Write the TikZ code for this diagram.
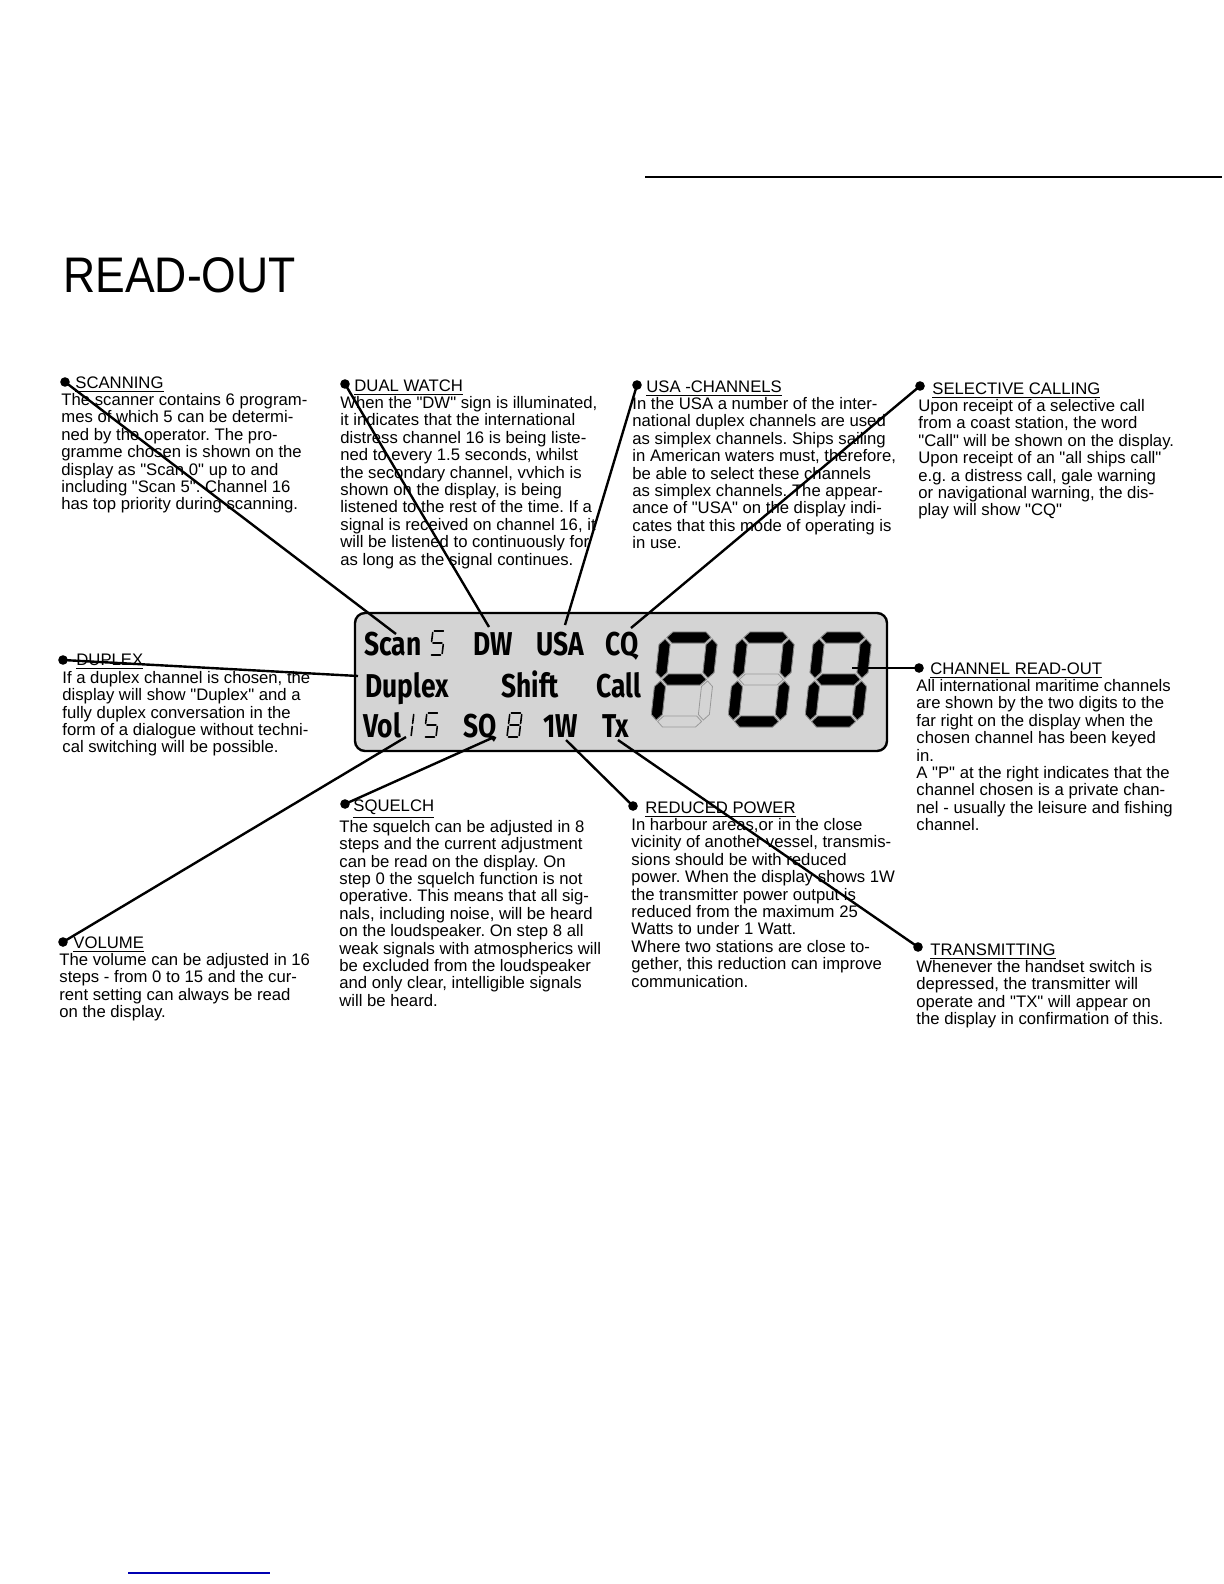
\documentclass[tikz,border=0pt]{standalone}
\usepackage{fontspec}
\setmainfont{Liberation Sans}[Ligatures=TeXOff]
\newfontfamily\lcdfont[FakeStretch=0.8]{Fira Sans}
\newfontfamily\titlefont[FakeStretch=0.89]{Liberation Sans}
\frenchspacing

% big LCD segments (local units, y up): a top, b/c right, d bottom, e/f left, g middle
\def\segA{(7,89.5) -- (12.5,95) -- (45.5,95) -- (51,89.5) -- (45.5,84) -- (12.5,84) -- cycle}
\def\segG{(7,47.5) -- (12.5,53) -- (45.5,53) -- (51,47.5) -- (45.5,42) -- (12.5,42) -- cycle}
\def\segD{(7,5.5) -- (12.5,11) -- (45.5,11) -- (51,5.5) -- (45.5,0) -- (12.5,0) -- cycle}
\def\segF{(5.5,49) -- (11,54.5) -- (11,82.5) -- (5.5,88) -- (0,82.5) -- (0,54.5) -- cycle}
\def\segE{(5.5,7) -- (11,12.5) -- (11,40.5) -- (5.5,46) -- (0,40.5) -- (0,12.5) -- cycle}
\def\segB{(52.5,49) -- (58,54.5) -- (58,82.5) -- (52.5,88) -- (47,82.5) -- (47,54.5) -- cycle}
\def\segC{(52.5,7) -- (58,12.5) -- (58,40.5) -- (52.5,46) -- (47,40.5) -- (47,12.5) -- cycle}
% small outline digits
\def\tsegA{(1.5,24) -- (10.5,24)}
\def\tsegB{(12,22.5) -- (12,13.5)}
\def\tsegC{(12,10.5) -- (12,1.5)}
\def\tsegD{(1.5,0) -- (10.5,0)}
\def\tsegE{(0,1.5) -- (0,10.5)}
\def\tsegF{(0,13.5) -- (0,22.5)}
\def\tsegG{(1.5,12) -- (10.5,12)}

\newcommand\bigdigit[3]{%
  \begin{scope}[shift={(#1,#2)}, yscale=-1, xslant=-0.11]
    \foreach \s in {A,B,C,D,E,F,G} \draw[segoff] \csname seg\s\endcsname;
    \foreach \s in {#3} \filldraw[segon] \csname seg\s\endcsname;
  \end{scope}}
\newcommand\thindigit[3]{%
  \begin{scope}[shift={(#1,#2)}, yscale=-1, xslant=-0.12]
    \foreach \s in {#3} \draw[segthin] \csname tseg\s\endcsname;
  \end{scope}}

\begin{document}
\begin{tikzpicture}[
    x=0.5pt, y=-0.5pt,
    body/.style={anchor=north west, inner sep=0, align=left,
                 font=\fontsize{8.35}{8.7}\selectfont},
    dot/.style={circle, fill, inner sep=0, minimum size=4.8pt},
    lead/.style={line width=1.2pt},
    lcdtxt/.style={anchor=base west, inner sep=0,
                   font=\lcdfont\bfseries\fontsize{16.5}{16.5}\selectfont},
    segon/.style={fill=black, draw=black!45, line width=0.4pt},
    segoff/.style={draw=black!40, line width=0.4pt},
    segthin/.style={line width=0.8pt, line cap=round}
]
\useasboundingbox (0,0) rectangle (1224,1584);
\fill[white] (0,0) rectangle (1224,1584);

% Heading and rules
\draw[line width=0.9pt] (645,177) -- (1222,177);
\node[anchor=base west, inner sep=0, font=\titlefont\fontsize{25}{25}\selectfont]
  (title) at (63,292) {READ-OUT};
\draw[blue!70!black, line width=0.6pt] (128,1573) -- (270,1573);

% LCD panel
\node[draw, line width=1.2pt, rounded corners=5pt, fill=black!17,
      minimum width=266pt, minimum height=69pt] (lcd) at (621,682) {};
% Row 1
\node[lcdtxt] (scan) at (364,655) {Scan};
\thindigit{430}{655}{A,F,G,C,D}
\node[lcdtxt] (dw) at (473,655) {DW};
\node[lcdtxt] (usa) at (536,655) {USA};
\node[lcdtxt] (cq) at (605,655) {CQ};
% Row 2
\node[lcdtxt] (duplex) at (365,697) {Duplex};
\node[lcdtxt] (shift) at (501,697) {Shift};
\node[lcdtxt] (call) at (596,697) {Call};
% Row 3
\node[lcdtxt] (vol) at (363,737) {Vol};
\thindigit{399}{737}{B,C}
\thindigit{424}{737}{A,F,G,C,D}
\node[lcdtxt] (sq) at (463,737) {SQ};
\thindigit{507}{737}{A,B,C,D,E,F,G}
\node[lcdtxt] (onew) at (543,737) {1W};
\node[lcdtxt] (tx) at (602,737) {Tx};
% Channel digits
\bigdigit{650}{727}{A,B,F,G,E}
\bigdigit{727}{727}{A,B,C,D,E,F}
\bigdigit{804}{727}{A,B,C,D,E,F,G}

% Text blocks, top row
\node[body] (scanning) at (61,376) {\hspace*{7pt}\underline{SCANNING}\\
  The scanner contains 6 program-\\mes of which 5 can be determi-\\
  ned by the operator. The pro-\\gramme chosen is shown on the\\
  display as "Scan 0" up to and\\including "Scan 5". Channel 16\\
  has top priority during scanning.};
\node[body] (dual) at (340,379) {\hspace*{7pt}\underline{DUAL WATCH}\\
  When the "DW" sign is illuminated,\\it indicates that the international\\
  distress channel 16 is being liste-\\ned to every 1.5 seconds, whilst\\
  the secondary channel, vvhich is\\shown on the display, is being\\
  listened to the rest of the time. If a\\signal is received on channel 16, it\\
  will be listened to continuously for\\as long as the signal continues.};
\node[body] (usach) at (632,380) {\hspace*{7pt}\underline{USA -CHANNELS}\\
  In the USA a number of the inter-\\national duplex channels are used\\
  as simplex channels. Ships sailing\\in American waters must, therefore,\\
  be able to select these channels\\as simplex channels. The appear-\\
  ance of "USA" on the display indi-\\cates that this mode of operating is\\
  in use.};
\node[body] (selcall) at (918,382) {\hspace*{7pt}\underline{SELECTIVE CALLING}\\
  Upon receipt of a selective call\\from a coast station, the word\\
  "Call" will be shown on the display.\\Upon receipt of an "all ships call"\\
  e.g. a distress call, gale warning\\or navigational warning, the dis-\\
  play will show "CQ"};
% Text blocks, middle row
\node[body] (dup) at (62,654) {\hspace*{7pt}\underline{DUPLEX}\\
  If a duplex channel is chosen, the\\display will show "Duplex" and a\\
  fully duplex conversation in the\\form of a dialogue without techni-\\
  cal switching will be possible.};
\node[body] (chan) at (916,662) {\hspace*{7pt}\underline{CHANNEL READ-OUT}\\
  All international maritime channels\\are shown by the two digits to the\\
  far right on the display when the\\chosen channel has been keyed\\in.\\
  A "P" at the right indicates that the\\channel chosen is a private chan-\\
  nel - usually the leisure and fishing\\channel.};
% Text blocks, bottom row
\node[body] (squelch) at (339,799) {\hspace*{7pt}\underline{SQUELCH}\\
  The squelch can be adjusted in 8\\steps and the current adjustment\\
  can be read on the display. On\\step 0 the squelch function is not\\
  operative. This means that all sig-\\nals, including noise, will be heard\\
  on the loudspeaker. On step 8 all\\weak signals with atmospherics will\\
  be excluded from the loudspeaker\\and only clear, intelligible signals\\
  will be heard.};
\node[body] (reduced) at (631,801) {\hspace*{7pt}\underline{REDUCED POWER}\\
  In harbour areas,or in the close\\vicinity of another vessel, transmis-\\
  sions should be with reduced\\power. When the display shows 1W\\
  the transmitter power output is\\reduced from the maximum 25\\
  Watts to under 1 Watt.\\Where two stations are close to-\\
  gether, this reduction can improve\\communication.};
\node[body] (volume) at (59,936) {\hspace*{7pt}\underline{VOLUME}\\
  The volume can be adjusted in 16\\steps - from 0 to 15 and the cur-\\
  rent setting can always be read\\on the display.};
\node[body] (transmit) at (916,943) {\hspace*{7pt}\underline{TRANSMITTING}\\
  Whenever the handset switch is\\depressed, the transmitter will\\
  operate and "TX" will appear on\\the display in confirmation of this.};

% Bullets
\node[dot] (scanDot) at (65,382) {};
\node[dot] (dualDot) at (345,384) {};
\node[dot] (usaDot) at (637,385) {};
\node[dot] (selDot) at (920,386) {};
\node[dot] (dupDot) at (63,660) {};
\node[dot] (chanDot) at (919,668) {};
\node[dot] (sqDot) at (345,804) {};
\node[dot] (redDot) at (633,806) {};
\node[dot] (volDot) at (63,942) {};
\node[dot] (txDot) at (918,947) {};

% Leader ends on the display
\coordinate (scanTip) at (396,634);
\coordinate (dwTip) at (489,627);
\coordinate (usaTip) at (565,625);
\coordinate (cqTip) at (631,628);
\coordinate (dupTip) at (358,676);
\coordinate (chanTip) at (852,668);
\coordinate (volTip) at (406,737);
\coordinate (sqTip) at (492,738);
\coordinate (wTip) at (566,740);
\coordinate (txTip) at (618,740);

% Leaders
\draw[lead] (scanDot.center) -- (scanTip);
\draw[lead] (dualDot.center) -- (dwTip);
\draw[lead] (usaDot.center) -- (usaTip);
\draw[lead] (selDot.center) -- (cqTip);
\draw[lead] (dupDot.center) -- (dupTip);
\draw[lead] (chanDot.center) -- (chanTip);
\draw[lead] (volDot.center) -- (volTip);
\draw[lead] (sqDot.center) -- (sqTip);
\draw[lead] (redDot.center) -- (wTip);
\draw[lead] (txDot.center) -- (txTip);
\end{tikzpicture}
\end{document}
